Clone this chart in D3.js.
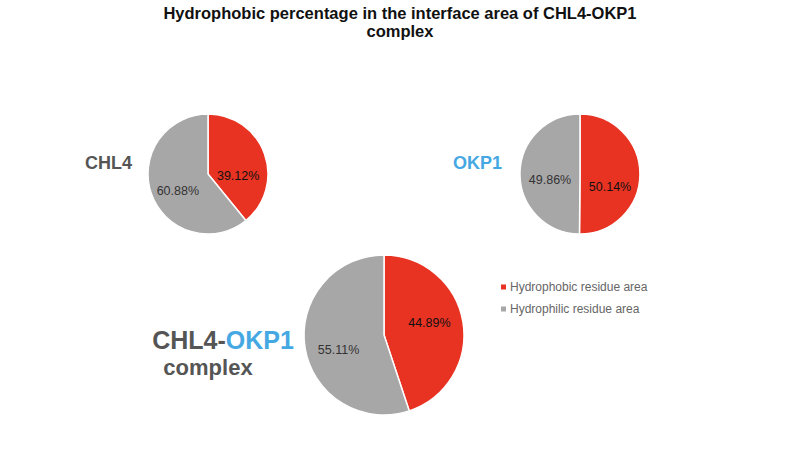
<!DOCTYPE html>
<html lang="en">
<head>
<meta charset="UTF-8">
<title>Hydrophobic percentage in the interface area of CHL4-OKP1 complex</title>
<script src="https://d3js.org/d3.v7.min.js"></script>
<style>
  body { margin: 0; background: #fff; }
  svg { font-family: "Liberation Sans", Arial, sans-serif; }
</style>
</head>
<body>
<div id="chart"></div>
<script>
// data
const categories = ["Hydrophobic residue area", "Hydrophilic residue area"];
const pieNames = ["CHL4", "OKP1", "CHL4-OKP1 complex"];
const chl4Values = [39.12, 60.88];
const okp1Values = [50.14, 49.86];
const complexValues = [44.89, 55.11];

const width = 800, height = 450;
const svg = d3.select("#chart").append("svg")
    .attr("width", width)
    .attr("height", height);

const color = d3.scaleOrdinal()
    .domain(categories)
    .range(["#e83323", "#a8a7a8"]);

// title
const title = svg.append("text")
    .attr("text-anchor", "middle")
    .style("font-size", "16.5px")
    .style("font-weight", "bold")
    .attr("fill", "#111");
title.append("tspan").attr("x", 400).attr("y", 19).text("Hydrophobic percentage in the interface area of CHL4-OKP1");
title.append("tspan").attr("x", 400).attr("y", 37).text("complex");

const pie = d3.pie().sort(null).value(d => d.value);

// label offsets mimic the spreadsheet's "best fit" placement
function drawPie(values, cx, cy, r, labelR, dys) {
    const data = categories.map((c, i) => ({ cat: c, value: values[i] }));
    const arc = d3.arc().innerRadius(0).outerRadius(r);
    const labelArc = d3.arc().innerRadius(labelR).outerRadius(labelR);
    const g = svg.append("g").attr("transform", `translate(${cx},${cy})`);
    g.selectAll("path")
        .data(pie(data))
        .enter().append("path")
        .attr("d", arc)
        .attr("fill", d => color(d.data.cat))
        .attr("stroke", "#fff")
        .attr("stroke-width", 1.5);
    g.selectAll("text")
        .data(pie(data))
        .enter().append("text")
        .attr("transform", (d, i) => {
            const c = labelArc.centroid(d);
            return `translate(${c[0]},${c[1] + dys[i]})`;
        })
        .attr("text-anchor", "middle")
        .attr("dy", "0.35em")
        .style("font-size", "12.5px")
        .attr("fill", (d, i) => i === 0 ? "#111" : "#333")
        .text(d => d3.format(".2f")(d.data.value) + "%");
}

drawPie(chl4Values, 208, 174, 60, 32, [12, 6]);
drawPie(okp1Values, 580, 174, 60, 30, [12, 6]);
drawPie(complexValues, 384, 335, 80, 46, [-5, 7]);

// pie names
svg.append("text")
    .attr("x", 85).attr("y", 169)
    .style("font-size", "18px").style("font-weight", "bold")
    .attr("fill", "#555")
    .text(pieNames[0]);

svg.append("text")
    .attr("x", 453).attr("y", 169)
    .style("font-size", "18px").style("font-weight", "bold")
    .attr("fill", "#46a8e2")
    .text(pieNames[1]);

const cLabel = svg.append("text")
    .attr("x", 223).attr("y", 349)
    .attr("text-anchor", "middle")
    .style("font-size", "25px").style("font-weight", "bold")
    .attr("fill", "#555");
cLabel.append("tspan").text("CHL4-");
cLabel.append("tspan").attr("fill", "#46a8e2").text("OKP1");
svg.append("text")
    .attr("x", 208).attr("y", 375)
    .attr("text-anchor", "middle")
    .style("font-size", "22px").style("font-weight", "bold")
    .attr("fill", "#555")
    .text("complex");

// legend
const legend = svg.append("g").attr("transform", "translate(501,287)");
categories.forEach((c, i) => {
    const row = legend.append("g").attr("transform", `translate(0,${i * 22})`);
    row.append("rect")
        .attr("x", 0).attr("y", -2.5)
        .attr("width", 5).attr("height", 5)
        .attr("fill", color(c));
    row.append("text")
        .attr("x", 9).attr("dy", "0.35em")
        .style("font-size", "12px")
        .attr("fill", "#666")
        .text(c);
});
</script>
</body>
</html>
